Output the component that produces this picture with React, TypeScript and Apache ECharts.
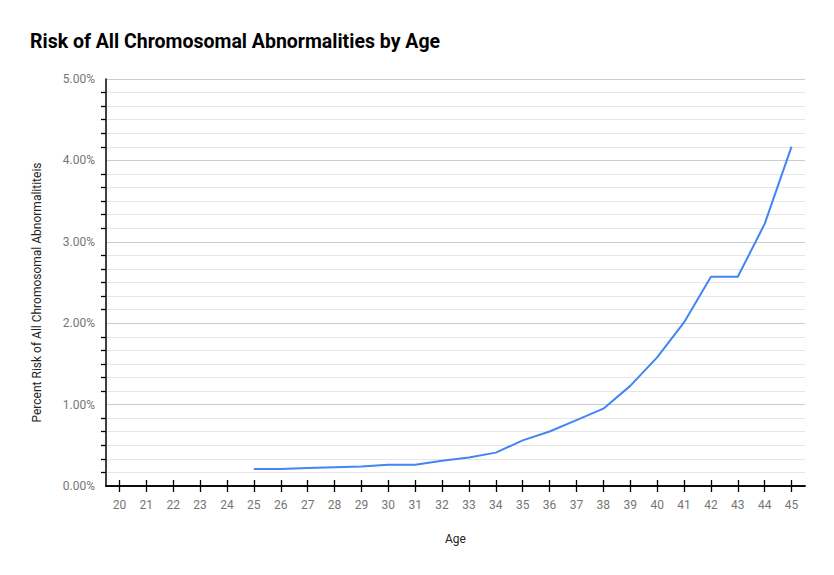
import React, { useEffect, useRef } from 'react';
import * as echarts from 'echarts';

const ages = ['20', '21', '22', '23', '24', '25', '26', '27', '28', '29', '30', '31', '32', '33', '34', '35', '36', '37', '38', '39', '40', '41', '42', '43', '44', '45'];
// percent risk, no data for 20–24
const riskPercent: (number | null)[] = [
  null, null, null, null, null,
  0.21, 0.21, 0.22, 0.23, 0.24, 0.26, 0.26, 0.31, 0.35, 0.41,
  0.56, 0.67, 0.81, 0.95, 1.23, 1.58, 2.01, 2.57, 2.57, 3.22, 4.17,
];
const yTicks = [0, 1, 2, 3, 4, 5];

const App: React.FC = () => {
  const chartRef = useRef<HTMLDivElement>(null);

  useEffect(() => {
    if (!chartRef.current) return;
    const chart = echarts.init(chartRef.current, undefined, { renderer: 'svg' });

    const font = 'Roboto, sans-serif';
    const labelColor = '#757575';
    const tickStyle = { color: '#000', width: 1.3 };

    chart.setOption({
      animation: false,
      title: {
        text: 'Risk of All Chromosomal Abnormalities by Age',
        left: 25,
        top: 26,
        textStyle: { fontFamily: font, fontSize: 19.5, fontWeight: 'bold', color: '#000' },
      },
      grid: { left: 106, right: 29, top: 79, bottom: 89 },
      xAxis: [
        {
          type: 'category',
          data: ages,
          name: 'Age',
          nameLocation: 'middle',
          nameGap: 47,
          nameTextStyle: { color: '#222', fontSize: 12, fontFamily: font },
          axisLine: { show: true, onZero: false, lineStyle: { color: '#000', width: 1.5 } },
          axisTick: { show: true, alignWithLabel: true, length: 6, lineStyle: tickStyle },
          axisLabel: { color: labelColor, fontSize: 12, margin: 13, fontFamily: font },
        },
        {
          // top axis pulled onto the zero line: its ticks give the upper half of each cross
          type: 'category',
          data: ages,
          position: 'top',
          axisLine: { show: true, lineStyle: { color: '#000', width: 1.5 } },
          axisTick: { show: true, alignWithLabel: true, length: 6, lineStyle: tickStyle },
          axisLabel: { show: false },
        },
      ],
      yAxis: {
        type: 'value',
        min: yTicks[0],
        max: yTicks[yTicks.length - 1],
        interval: 1,
        name: 'Percent Risk of All Chromosomal Abnormalititeis',
        nameLocation: 'middle',
        nameGap: 63,
        nameTextStyle: { color: '#222', fontSize: 12, fontFamily: font, padding: [0, 20, 0, 0] },
        axisLine: { show: true, lineStyle: { color: '#000', width: 1.5 } },
        axisTick: { show: false },
        axisLabel: {
          color: labelColor,
          fontSize: 12,
          margin: 11,
          fontFamily: font,
          formatter: (v: number) => `${v.toFixed(2)}%`,
        },
        splitLine: { show: true, lineStyle: { color: '#cccccc', width: 1 } },
        minorTick: { show: true, splitNumber: 6, length: 5, lineStyle: tickStyle },
        minorSplitLine: { show: true, lineStyle: { color: '#e6e6e6', width: 1 } },
      },
      series: [
        {
          type: 'line',
          data: riskPercent,
          xAxisIndex: 0,
          showSymbol: false,
          symbol: 'none',
          lineStyle: { color: '#4285F4', width: 2 },
          itemStyle: { color: '#4285F4' },
        },
      ],
    });

    return () => {
      chart.dispose();
    };
  }, []);

  return (
    <div
      ref={chartRef}
      style={{ position: 'fixed', left: 0, top: 0, width: 834, height: 575, background: '#fff' }}
    />
  );
};

export default App;
